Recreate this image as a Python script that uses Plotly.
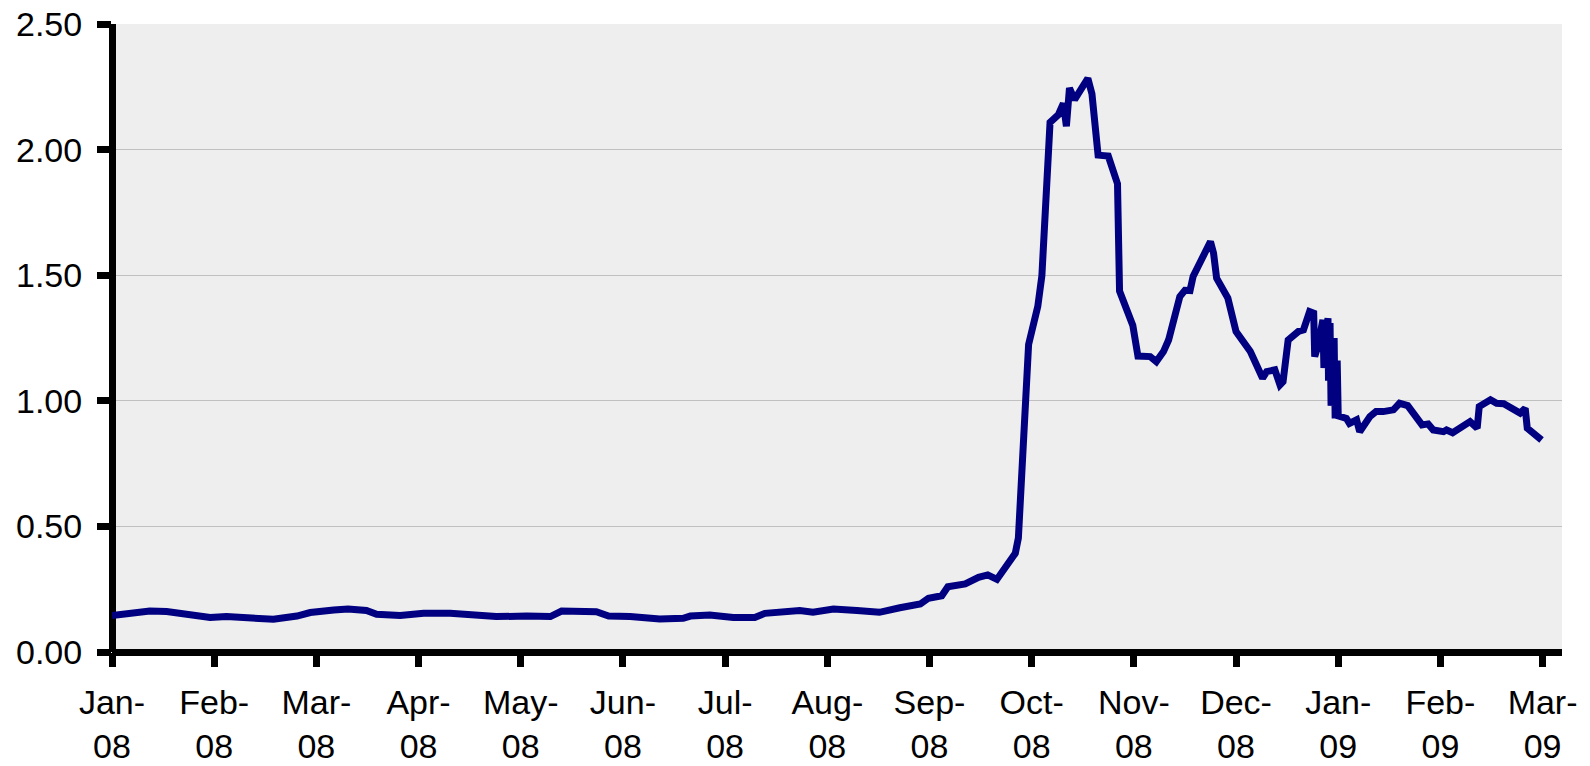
import plotly.graph_objects as go

# Spread measure, Jan 2008 - Mar 2009.
# Time is in months since the start of Jan 2008 (each month = 1 unit).
months_since_jan08 = [
    0.00, 0.21, 0.37, 0.535, 0.70, 0.96, 1.12, 1.35, 1.58, 1.81, 1.94, 2.17,
    2.31, 2.49, 2.59, 2.82, 3.05, 3.31, 3.50, 3.76, 4.06, 4.29, 4.40, 4.61,
    4.74, 4.86, 5.07, 5.36, 5.59, 5.66, 5.85, 6.08, 6.29, 6.39, 6.73, 6.86,
    7.06, 7.29, 7.51, 7.71, 7.84, 7.91, 7.99, 8.12, 8.18, 8.35, 8.48, 8.57,
    8.66, 8.84, 8.87, 8.90, 8.93, 8.97, 9.06, 9.10, 9.18, 9.26, 9.31, 9.34,
    9.37, 9.42, 9.49, 9.55, 9.59, 9.63, 9.65, 9.75, 9.84, 9.86, 9.99, 10.04,
    10.16, 10.22, 10.29, 10.34, 10.37, 10.45, 10.50, 10.55, 10.58, 10.66, 10.75, 10.78,
    10.81, 10.92, 11.00, 11.14, 11.20, 11.26, 11.30, 11.38, 11.43, 11.46, 11.51, 11.61,
    11.66, 11.72, 11.76, 11.77, 11.80, 11.85, 11.86, 11.90, 11.905, 11.92, 11.93, 11.96,
    11.97, 11.99, 12.00, 12.08, 12.11, 12.18, 12.21, 12.31, 12.37, 12.44, 12.54, 12.60,
    12.68, 12.82, 12.88, 12.93, 13.03, 13.06, 13.12, 13.21, 13.29, 13.36, 13.38, 13.49,
    13.55, 13.62, 13.73, 13.78, 13.83, 13.85, 13.99,
]
spread = [
    0.145, 0.158, 0.163, 0.161, 0.150, 0.137, 0.141, 0.137, 0.130, 0.143, 0.157, 0.167,
    0.171, 0.165, 0.150, 0.145, 0.154, 0.154, 0.147, 0.141, 0.143, 0.141, 0.163, 0.160,
    0.160, 0.143, 0.141, 0.131, 0.134, 0.143, 0.147, 0.137, 0.137, 0.154, 0.165, 0.158,
    0.171, 0.165, 0.158, 0.176, 0.190, 0.191, 0.214, 0.224, 0.260, 0.271, 0.297, 0.307,
    0.289, 0.393, 0.454, 0.700, 0.873, 1.224, 1.376, 1.498, 2.108, 2.138, 2.184, 2.093,
    2.245, 2.199, 2.245, 2.283, 2.222, 2.055, 1.978, 1.974, 1.864, 1.437, 1.300, 1.178,
    1.176, 1.156, 1.196, 1.242, 1.295, 1.415, 1.440, 1.439, 1.495, 1.561, 1.634, 1.588,
    1.488, 1.409, 1.276, 1.196, 1.136, 1.090, 1.116, 1.123, 1.063, 1.076, 1.242, 1.276,
    1.282, 1.355, 1.349, 1.176, 1.216, 1.322, 1.131, 1.329, 1.080, 1.310, 0.980, 1.250,
    0.930, 1.160, 0.940, 0.930, 0.910, 0.924, 0.877, 0.937, 0.957, 0.957, 0.964, 0.990,
    0.981, 0.904, 0.908, 0.884, 0.877, 0.884, 0.873, 0.897, 0.917, 0.891, 0.977, 1.004,
    0.990, 0.988, 0.957, 0.951, 0.970, 0.891, 0.844,
]

month_ticks = list(range(15))
month_labels = [
    "Jan-<br>08", "Feb-<br>08", "Mar-<br>08", "Apr-<br>08", "May-<br>08",
    "Jun-<br>08", "Jul-<br>08", "Aug-<br>08", "Sep-<br>08", "Oct-<br>08",
    "Nov-<br>08", "Dec-<br>08", "Jan-<br>09", "Feb-<br>09", "Mar-<br>09",
]
value_ticks = [0.0, 0.5, 1.0, 1.5, 2.0, 2.5]

FONT = "Liberation Sans, Arial, sans-serif"
TICK_FONT = dict(family=FONT, size=34, color="black")

fig = go.Figure()
fig.add_trace(go.Scatter(
    x=months_since_jan08,
    y=spread,
    mode="lines",
    line=dict(color="#000080", width=7),
    hoverinfo="skip",
    showlegend=False,
))

fig.update_layout(
    width=1590,
    height=766,
    margin=dict(l=112, r=28, t=24, b=114),
    paper_bgcolor="white",
    plot_bgcolor="#EEEEEE",
    font=dict(family=FONT, size=34, color="black"),
    showlegend=False,
)

# Axis lines are drawn as zero lines so they sit centred on the data origin.
fig.update_xaxes(
    range=[0, 14.19],
    automargin=False,
    tickmode="array",
    tickvals=month_ticks,
    ticktext=month_labels,
    showgrid=False,
    showline=False,
    zeroline=True,
    zerolinecolor="black",
    zerolinewidth=7,
    ticks="outside",
    ticklen=14,
    tickwidth=7,
    tickcolor="black",
    tickangle=0,
    ticklabelstandoff=6,
    tickfont=TICK_FONT,
)

fig.update_yaxes(
    range=[0, 2.5],
    automargin=False,
    tickmode="array",
    tickvals=value_ticks,
    tickformat=".2f",
    showgrid=True,
    gridcolor="#C0C0C0",
    gridwidth=1,
    showline=False,
    zeroline=True,
    zerolinecolor="black",
    zerolinewidth=7,
    ticks="outside",
    ticklen=14,
    tickwidth=7,
    tickcolor="black",
    ticklabelstandoff=8,
    tickfont=TICK_FONT,
)

fig.write_html("out.html")
